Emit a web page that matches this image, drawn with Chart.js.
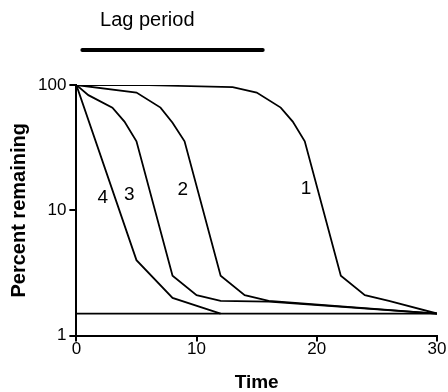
<!DOCTYPE html>
<html>
<head>
<meta charset="utf-8">
<script src="https://cdn.jsdelivr.net/npm/chart.js@4"></script>
<style>
  html, body { margin: 0; padding: 0; background: #fff; }
  #wrap { width: 448px; height: 392px; }
</style>
</head>
<body>
<div id="wrap"><canvas id="decay"></canvas></div>
<script>
  // curve data (time, percent remaining)
  const time1 = [0, 6, 13, 15, 17, 18, 19, 22, 24, 26, 30];
  const pct1 = [100, 99.6, 96, 87, 66, 51, 35.5, 3.0, 2.1, 1.89, 1.5];
  const time2 = [0, 5, 7, 8, 9, 12, 14, 16, 30];
  const pct2 = [100, 87, 66, 50, 35.5, 3.0, 2.1, 1.89, 1.5];
  const time3 = [0, 1, 3, 4, 5, 8, 10, 12, 16, 30];
  const pct3 = [100, 83, 66, 51, 35.5, 3.0, 2.1, 1.89, 1.87, 1.5];
  const time4 = [0, 5, 8, 12];
  const pct4 = [100, 4.0, 2.0, 1.5];
  const limitTime = [0, 30];
  const limitPct = [1.5, 1.5];

  const curveLabels = ['1', '2', '3', '4'];
  const labelX = [19.1, 8.85, 4.4, 2.2];
  const labelY = [13.6, 13.2, 12.1, 11.5];

  const lagTime = [0.5, 15.5];
  const lagLevel = [190, 190];
  const lagText = 'Lag period';
  const lagTextX = 5.9;
  const lagTextY = 295;

  const xTicks = [0, 10, 20, 30];
  const yTicks = [1, 10, 100];

  const FONT = "'Liberation Sans', Arial, Helvetica, sans-serif";

  function pts(xs, ys) {
    return xs.map((x, i) => ({ x: x, y: ys[i] }));
  }

  function lineSet(xs, ys, w) {
    return {
      data: pts(xs, ys),
      borderColor: '#000',
      borderWidth: w,
      pointRadius: 0,
      tension: 0,
      fill: false
    };
  }

  const lag = lineSet(lagTime, lagLevel, 4);
  lag.clip = false;
  lag.borderCapStyle = 'round';

  const textPlugin = {
    id: 'textLabels',
    afterDatasetsDraw(chart) {
      const { ctx, scales: { x, y } } = chart;
      ctx.save();
      ctx.fillStyle = '#000';
      ctx.textAlign = 'center';
      ctx.textBaseline = 'alphabetic';
      ctx.font = '19px ' + FONT;
      curveLabels.forEach((t, i) => {
        ctx.fillText(t, x.getPixelForValue(labelX[i]), y.getPixelForValue(labelY[i]));
      });
      ctx.font = '20px ' + FONT;
      ctx.fillText(lagText, x.getPixelForValue(lagTextX), y.getPixelForValue(lagTextY));
      ctx.restore();
    }
  };

  new Chart(document.getElementById('decay'), {
    type: 'line',
    data: {
      datasets: [
        lineSet(time1, pct1, 1.8),
        lineSet(time2, pct2, 1.8),
        lineSet(time3, pct3, 1.8),
        lineSet(time4, pct4, 1.8),
        lineSet(limitTime, limitPct, 1.8),
        lag
      ]
    },
    options: {
      responsive: true,
      maintainAspectRatio: false,
      animation: false,
      layout: { padding: { top: 85, left: 7, right: 11, bottom: 0 } },
      plugins: {
        legend: { display: false },
        tooltip: { enabled: false }
      },
      scales: {
        x: {
          type: 'linear',
          min: 0,
          max: 30,
          afterBuildTicks: (s) => { s.ticks = xTicks.map(v => ({ value: v })); },
          border: { display: true, color: '#000', width: 2 },
          grid: { drawOnChartArea: false, drawTicks: true, tickLength: 6, color: '#000', lineWidth: 2 },
          ticks: { color: '#000', padding: -2, maxRotation: 0, font: { family: FONT, size: 17 } },
          title: {
            display: true, text: 'Time', color: '#000',
            font: { family: FONT, size: 19, weight: 'bold', lineHeight: 1.0 },
            padding: { top: 15, bottom: 0 }
          }
        },
        y: {
          type: 'logarithmic',
          min: 1,
          max: 100,
          afterBuildTicks: (s) => { s.ticks = yTicks.map(v => ({ value: v })); },
          border: { display: true, color: '#000', width: 2 },
          grid: { drawOnChartArea: false, drawTicks: true, tickLength: 7, color: '#000', lineWidth: 2 },
          ticks: {
            color: '#000', padding: 3,
            font: { family: FONT, size: 17 },
            callback: (v) => String(v)
          },
          title: {
            display: true, text: 'Percent remaining', color: '#000',
            font: { family: FONT, size: 20, weight: 'bold' },
            padding: { top: 0, bottom: 4 }
          }
        }
      }
    },
    plugins: [textPlugin]
  });
</script>
</body>
</html>
